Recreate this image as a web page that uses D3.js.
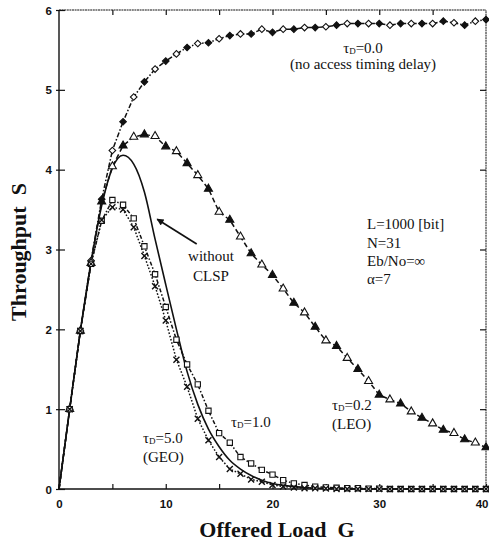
<!DOCTYPE html>
<html>
<head>
<meta charset="utf-8">
<script src="https://cdn.jsdelivr.net/npm/d3@7"></script>
<style>
    body { margin: 0; background: #fff; }
    svg { display: block; }
</style>
</head>
<body>
<svg id="chart" width="489" height="545"></svg>
<script>

// offered load G (x) for every curve
const offeredLoad = d3.range(0, 41);

// throughput S for each access timing delay
const tau00 = [0, 1.0, 1.98, 2.86, 3.63, 4.24, 4.60, 4.91, 5.10, 5.26,
    5.36, 5.45, 5.53, 5.58, 5.59, 5.64, 5.68, 5.70, 5.70, 5.76,
    5.72, 5.76, 5.76, 5.78, 5.78, 5.79, 5.81, 5.83, 5.83, 5.83,
    5.83, 5.81, 5.83, 5.83, 5.83, 5.83, 5.86, 5.84, 5.81, 5.86, 5.88];

const tau02 = [0, 1.0, 1.98, 2.83, 3.60, 4.04, 4.30, 4.41, 4.44, 4.42,
    4.29, 4.23, 4.08, 3.93, 3.76, 3.47, 3.37, 3.16, 2.95, 2.81,
    2.68, 2.51, 2.33, 2.21, 2.03, 1.86, 1.79, 1.64, 1.50, 1.35,
    1.18, 1.12, 1.07, 0.97, 0.89, 0.82, 0.74, 0.70, 0.62, 0.58, 0.52];

const tau10 = [0, 1.0, 1.98, 2.82, 3.36, 3.62, 3.56, 3.39, 3.04, 2.69,
    2.28, 1.87, 1.56, 1.31, 0.98, 0.70, 0.58, 0.40, 0.32, 0.24,
    0.18, 0.11, 0.07, 0.05, 0.03, 0.02, 0.015, 0.01, 0.01, 0.005,
    0.005, 0, 0, 0, 0, 0, 0, 0, 0, 0, 0];

const tau50 = [0, 1.0, 1.98, 2.82, 3.37, 3.53, 3.50, 3.28, 2.92, 2.54,
    2.11, 1.62, 1.28, 0.88, 0.61, 0.40, 0.25, 0.19, 0.12, 0.09,
    0.05, 0.03, 0.02, 0.01, 0.01, 0.005, 0, 0, 0, 0,
    0, 0, 0, 0, 0, 0, 0, 0, 0, 0, 0];

const withoutClsp = [0, 1.0, 1.98, 2.84, 3.55, 4.02, 4.18, 4.07, 3.72, 3.13,
    2.56, 2.00, 1.47, 1.06, 0.75, 0.53, 0.36, 0.25, 0.17, 0.11,
    0.07, 0.045, 0.03, 0.02, 0.01, 0.008, 0.005, 0.003, 0, 0,
    0, 0, 0, 0, 0, 0, 0, 0, 0, 0, 0];

const xTicks = [0, 5, 10, 15, 20, 25, 30, 35, 40];
const xTickLabels = ["0", "", "10", "", "20", "", "30", "", "40"];
const yTicks = [0, 1, 2, 3, 4, 5, 6];


const svg = d3.select("#chart");

const x = d3.scaleLinear().domain([0, 40]).range([59, 486]);
const y = d3.scaleLinear().domain([0, 6]).range([489, 10]);

const serif = "'Liberation Serif', 'Times New Roman', serif";
const sans = "'Liberation Sans', Arial, sans-serif";


// frame
svg.append("g")
    .attr("fill", "none")
    .attr("stroke", "#111")
    .call(g => {
        g.append("line").attr("x1", x(0)).attr("x2", x(0)).attr("y1", y(0)).attr("y2", y(6)).attr("stroke-width", 1.4);
        g.append("line").attr("x1", x(0)).attr("x2", x(40)).attr("y1", y(0)).attr("y2", y(0)).attr("stroke-width", 1.4);
        g.append("line").attr("x1", x(0)).attr("x2", x(40)).attr("y1", y(6)).attr("y2", y(6)).attr("stroke-width", 1).attr("stroke-dasharray", "2,0.6");
        g.append("line").attr("x1", x(40)).attr("x2", x(40)).attr("y1", y(0)).attr("y2", y(6)).attr("stroke-width", 1).attr("stroke-dasharray", "2,0.6");
    });


// axes (ticks point inward)
const bottomAxis = svg.append("g")
    .attr("transform", "translate(0," + y(0) + ")")
    .call(d3.axisBottom(x)
        .tickValues(xTicks)
        .tickSize(-5)
        .tickPadding(11)
        .tickFormat((d, i) => xTickLabels[i]));

const leftAxis = svg.append("g")
    .attr("transform", "translate(" + x(0) + ",0)")
    .call(d3.axisLeft(y)
        .tickValues(yTicks)
        .tickSize(-6)
        .tickPadding(7)
        .tickFormat(d3.format("d")));

leftAxis.selectAll(".tick line").attr("x1", -3);

const topAxis = svg.append("g")
    .attr("transform", "translate(0," + y(6) + ")")
    .call(d3.axisTop(x).tickValues(xTicks.slice(1, -1)).tickSize(-5).tickFormat(""));

const rightAxis = svg.append("g")
    .attr("transform", "translate(" + x(40) + ",0)")
    .call(d3.axisRight(y).tickValues(yTicks.slice(1, -1)).tickSize(-6).tickFormat(""));

[bottomAxis, leftAxis, topAxis, rightAxis].forEach(function (a) {
    a.select(".domain").remove();
    a.selectAll(".tick line").attr("stroke", "#111").attr("stroke-width", 1.2);
    a.selectAll("text")
        .attr("font-family", sans)
        .attr("font-size", 11.5)
        .attr("font-weight", "bold")
        .attr("fill", "#111");
});

leftAxis.selectAll("text").attr("dy", "0.36em");

// last label sits on the window edge: keep it inside
bottomAxis.selectAll(".tick")
    .filter(function (d) { return d === 40; })
    .select("text")
        .attr("text-anchor", "end")
        .attr("x", 2);


// curves
const series = [
    { name: "tau00", values: tau00, dash: "5,2,1.5,2", symbol: "diamond" },
    { name: "tau02", values: tau02, dash: "5,3", symbol: "triangle" },
    { name: "tau10", values: tau10, dash: "4,2,1.5,2", symbol: "square" },
    { name: "tau50", values: tau50, dash: "1.6,1.8", symbol: "cross" }
];

const line = d3.line()
    .x(function (d, i) { return x(offeredLoad[i]); })
    .y(function (d) { return y(d); });

const smoothLine = d3.line()
    .x(function (d, i) { return x(offeredLoad[i]); })
    .y(function (d) { return y(d); })
    .curve(d3.curveMonotoneX);

svg.append("path")
    .attr("d", smoothLine(withoutClsp))
    .attr("fill", "none")
    .attr("stroke", "#111")
    .attr("stroke-width", 1.6);

series.forEach(function (s) {
    svg.append("path")
        .attr("d", line(s.values))
        .attr("fill", "none")
        .attr("stroke", "#111")
        .attr("stroke-width", 1.5)
        .attr("stroke-dasharray", s.dash);
});

const symbolPath = {
    diamond: d3.symbol().type(d3.symbolSquare).size(22)(),
    triangle: d3.symbol().type(d3.symbolTriangle).size(28)(),
    square: d3.symbol().type(d3.symbolSquare).size(28)(),
    cross: "M-3,-3L3,3M-3,3L3,-3"
};

series.forEach(function (s) {
    const points = s.values
        .map(function (v, i) { return { g: offeredLoad[i], s: v, i: i }; })
        .filter(function (d) { return d.g > 0; });

    svg.append("g")
        .selectAll("path")
        .data(points)
        .enter()
        .append("path")
            .attr("d", symbolPath[s.symbol])
            .attr("transform", function (d) {
                return "translate(" + x(d.g) + "," + y(d.s) + ")" + (s.symbol === "diamond" ? " rotate(45)" : "");
            })
            .attr("fill", function (d) {
                if (s.symbol === "cross" || s.symbol === "square") {
                    return s.symbol === "cross" ? "none" : "#fff";
                }
                return d.i % 2 === 0 ? "#111" : "#fff";
            })
            .attr("stroke", "#111")
            .attr("stroke-width", s.symbol === "cross" ? 1.4 : 1.1);
});


// annotations
const addTau = function (px, py, value, anchor) {
    const t = svg.append("text")
        .attr("x", px)
        .attr("y", py)
        .attr("font-family", serif)
        .attr("font-size", 15)
        .attr("text-anchor", anchor || "start")
        .attr("fill", "#111");
    t.append("tspan").text("τ");
    t.append("tspan").attr("font-size", 9).attr("dy", 1).text("D");
    t.append("tspan").attr("dy", -1).text("=" + value);
    return t;
};

const addText = function (px, py, str, anchor) {
    return svg.append("text")
        .attr("x", px)
        .attr("y", py)
        .attr("font-family", serif)
        .attr("font-size", 15)
        .attr("text-anchor", anchor || "start")
        .attr("fill", "#111")
        .text(str);
};

addTau(363, 53, "0.0", "middle");
addText(363, 69, "(no access timing delay)", "middle");

addText(367, 229, "L=1000 [bit]");
addText(367, 248, "N=31");
addText(367, 266, "Eb/No=∞");
addText(367, 284, "α=7");

addText(211, 261, "without", "middle");
addText(211, 281, "CLSP", "middle");

addTau(231, 427, "1.0");
addTau(143, 443, "5.0");
addText(143, 462, "(GEO)");
addTau(332, 410, "0.2");
addText(332, 429, "(LEO)");

// arrow pointing at the curve without CLSP
svg.append("defs").append("marker")
    .attr("id", "arrowHead")
    .attr("viewBox", "0 0 10 10")
    .attr("refX", 9)
    .attr("refY", 5)
    .attr("markerWidth", 9)
    .attr("markerHeight", 7)
    .attr("markerUnits", "userSpaceOnUse")
    .attr("orient", "auto")
    .append("path")
        .attr("d", "M0,0L10,5L0,10Z")
        .attr("fill", "#111");

svg.append("line")
    .attr("x1", x(12.9))
    .attr("y1", y(3.07))
    .attr("x2", x(9.2))
    .attr("y2", y(3.38))
    .attr("stroke", "#111")
    .attr("stroke-width", 1.7)
    .attr("marker-end", "url(#arrowHead)");


// axis titles
svg.append("text")
    .attr("x", 277)
    .attr("y", 537)
    .attr("text-anchor", "middle")
    .attr("font-family", serif)
    .attr("font-size", 22)
    .attr("font-weight", "bold")
    .attr("fill", "#111")
    .attr("xml:space", "preserve")
    .text("Offered Load  G");

svg.append("text")
    .attr("transform", "translate(26,252) rotate(-90)")
    .attr("text-anchor", "middle")
    .attr("font-family", serif)
    .attr("font-size", 22)
    .attr("font-weight", "bold")
    .attr("fill", "#111")
    .attr("xml:space", "preserve")
    .text("Throughput  S");

</script>
</body>
</html>
